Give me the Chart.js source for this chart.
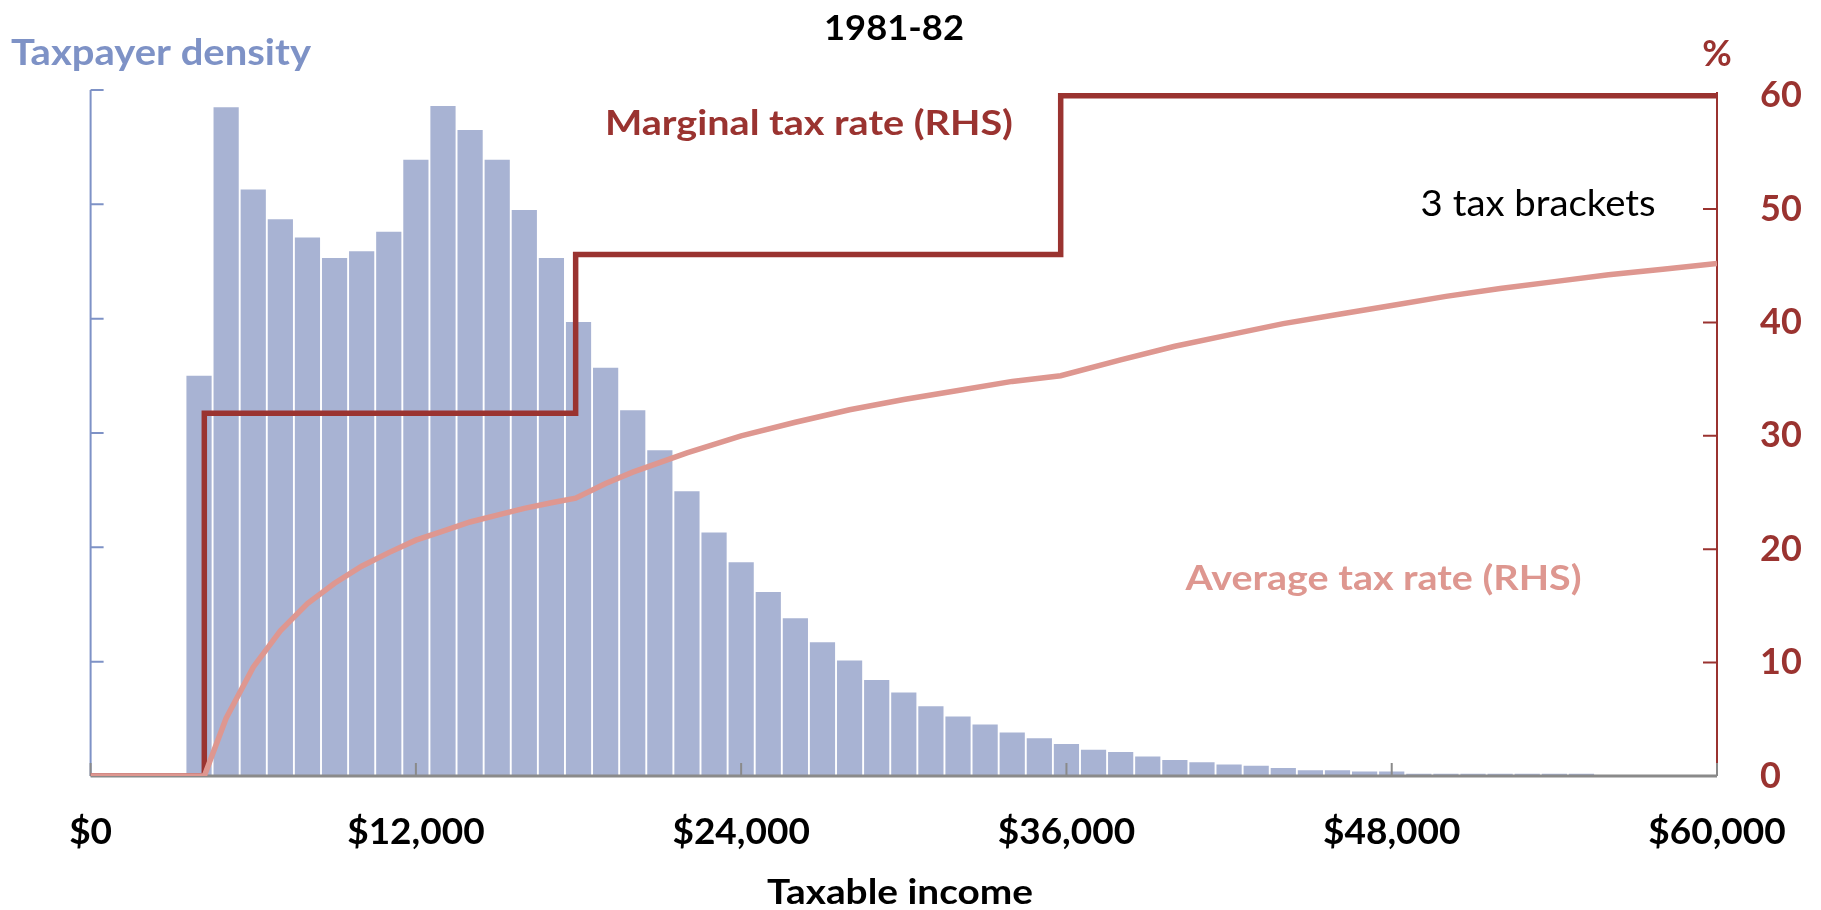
<!DOCTYPE html>
<html>
<head>
<meta charset="utf-8">
<script src="https://cdn.jsdelivr.net/npm/chart.js@4.4.0/dist/chart.umd.min.js"></script>
<style>
  html, body { margin: 0; padding: 0; background: #fff; }
  #wrap { width: 1821px; height: 910px; position: relative; }
</style>
</head>
<body>
<div id="wrap"><canvas id="c"></canvas></div>
<script>
// taxpayer density, $1,000 income bins (bin centres)
const binCentres = [
    4000, 5000, 6000, 7000, 8000, 9000, 10000, 11000, 12000, 13000,
    14000, 15000, 16000, 17000, 18000, 19000, 20000, 21000, 22000, 23000,
    24000, 25000, 26000, 27000, 28000, 29000, 30000, 31000, 32000, 33000,
    34000, 35000, 36000, 37000, 38000, 39000, 40000, 41000, 42000, 43000,
    44000, 45000, 46000, 47000, 48000, 49000, 50000, 51000, 52000, 53000,
    54000, 55000
];
const density = [
    3.50, 5.85, 5.13, 4.87, 4.71, 4.53, 4.59, 4.76, 5.39, 5.86,
    5.65, 5.39, 4.95, 4.53, 3.97, 3.57, 3.20, 2.85, 2.49, 2.13,
    1.87, 1.61, 1.38, 1.17, 1.01, 0.84, 0.73, 0.61, 0.52, 0.45,
    0.38, 0.33, 0.28, 0.23, 0.21, 0.17, 0.14, 0.12, 0.10, 0.09,
    0.07, 0.05, 0.05, 0.04, 0.04, 0.02, 0.02, 0.02, 0.02, 0.02,
    0.02, 0.02
];

// marginal tax rate schedule (%), stepped
const mtrIncome = [0, 4195, 17894, 35788, 60000];
const mtrRate = [0, 32, 46, 60, 60];

// average tax rate (%)
const atrIncome = [
    0, 4195, 5000, 6000, 7000, 8000, 9000, 10000, 11000, 12000,
    13000, 14000, 15000, 16000, 17000, 17894, 19000, 20000, 22000, 24000,
    26000, 28000, 30000, 32000, 34000, 35788, 38000, 40000, 42000, 44000,
    46000, 48000, 50000, 52000, 54000, 56000, 58000, 60000
];
const atrRate = [
    0, 0, 5.1, 9.6, 12.8, 15.2, 17.0, 18.5, 19.7, 20.8,
    21.6, 22.4, 23.0, 23.6, 24.1, 24.5, 25.8, 26.8, 28.5, 30.0,
    31.2, 32.3, 33.2, 34.0, 34.8, 35.3, 36.7, 37.9, 38.9, 39.9,
    40.7, 41.5, 42.3, 43.0, 43.6, 44.2, 44.7, 45.2
];

const incomeTicks = [0, 12000, 24000, 36000, 48000, 60000];
const densityTicks = [0, 1, 2, 3, 4, 5, 6];
const rateTicks = [0, 10, 20, 30, 40, 50, 60];

const BAR = '#A8B3D3';
const BLUE = '#7E92C6';
const RED = '#9A3330';
const PINK = '#DE9790';
const GREY = '#8A8A8A';
const FONT = 'Lato';

const pts = (xs, ys) => xs.map((x, i) => ({ x: x, y: ys[i] }));

// axis lines with inward ticks, drawn over the bars but under the lines
const axesPlugin = {
    id: 'axes',
    afterDatasetDraw(chart, args) {
        if (args.index !== 0) return;
        const { ctx, chartArea: a, scales } = chart;
        ctx.save();
        ctx.lineCap = 'butt';

        ctx.strokeStyle = BLUE;
        ctx.lineWidth = 2;
        ctx.beginPath();
        ctx.moveTo(a.left, a.top);
        ctx.lineTo(a.left, a.bottom);
        densityTicks.forEach(v => {
            const y = scales.yL.getPixelForValue(v);
            ctx.moveTo(a.left, y);
            ctx.lineTo(a.left + 13, y);
        });
        ctx.stroke();

        ctx.strokeStyle = RED;
        ctx.beginPath();
        ctx.moveTo(a.right, a.top + 2);
        ctx.lineTo(a.right, a.bottom);
        rateTicks.forEach(v => {
            const y = scales.yR.getPixelForValue(v);
            ctx.moveTo(a.right, y);
            ctx.lineTo(a.right - 14, y);
        });
        ctx.stroke();

        ctx.strokeStyle = GREY;
        ctx.lineWidth = 3;
        ctx.beginPath();
        ctx.moveTo(a.left, a.bottom);
        ctx.lineTo(a.right, a.bottom);
        ctx.stroke();
        ctx.lineWidth = 2;
        ctx.beginPath();
        incomeTicks.forEach(v => {
            const x = scales.x.getPixelForValue(v);
            ctx.moveTo(x, a.bottom);
            ctx.lineTo(x, a.bottom - 13);
        });
        ctx.stroke();
        ctx.restore();
    }
};

// titles and labels; width = target text width (stretched to match the original face)
const textPlugin = {
    id: 'texts',
    afterDraw(chart) {
        const { ctx, chartArea: a, scales } = chart;
        const put = (txt, cx, y, color, size, weight, width) => {
            ctx.save();
            ctx.font = `${weight} ${size}px ${FONT}`;
            ctx.fillStyle = color;
            ctx.textAlign = 'center';
            ctx.textBaseline = 'alphabetic';
            const k = width ? width / ctx.measureText(txt).width : 1;
            ctx.translate(cx, y);
            ctx.scale(k, 1);
            ctx.fillText(txt, 0, 0);
            ctx.restore();
        };
        put('1981-82', 894, 40, '#000', 35, 'bold', 140);
        put('Taxpayer density', 161, 65, BLUE, 36, 'bold', 300);
        put('%', a.right, 66, RED, 36, 'bold');
        put('Marginal tax rate (RHS)', scales.x.getPixelForValue(26500), 135, RED, 35, 'bold', 408);
        put('3 tax brackets', scales.x.getPixelForValue(53400), 216, '#000', 37, 'normal', 235);
        put('Average tax rate (RHS)', scales.x.getPixelForValue(47700), 590, PINK, 35, 'bold', 396);
        put('Taxable income', 900, 904, '#000', 35, 'bold', 266);
    }
};

new Chart(document.getElementById('c'), {
    type: 'bar',
    data: {
        datasets: [
            {
                type: 'bar',
                label: 'Taxpayer density',
                data: pts(binCentres, density),
                yAxisID: 'yL',
                backgroundColor: BAR,
                borderWidth: 0,
                barPercentage: 0.93,
                categoryPercentage: 1,
                order: 3
            },
            {
                type: 'line',
                label: 'Marginal tax rate (RHS)',
                data: pts(mtrIncome, mtrRate),
                yAxisID: 'yR',
                borderColor: RED,
                borderWidth: 5.5,
                borderJoinStyle: 'miter',
                stepped: true,
                pointRadius: 0,
                fill: false,
                order: 2
            },
            {
                type: 'line',
                label: 'Average tax rate (RHS)',
                data: pts(atrIncome, atrRate),
                yAxisID: 'yR',
                borderColor: PINK,
                borderWidth: 5.5,
                tension: 0,
                pointRadius: 0,
                fill: false,
                order: 1
            }
        ]
    },
    options: {
        responsive: true,
        maintainAspectRatio: false,
        animation: false,
        layout: { padding: { top: 90, left: 0, right: 0, bottom: 0 } },
        plugins: {
            legend: { display: false },
            tooltip: { enabled: false },
            title: { display: false }
        },
        scales: {
            x: {
                type: 'linear',
                min: 0,
                max: 60000,
                offset: false,
                grid: { display: false, drawTicks: false, tickLength: 0 },
                border: { display: false },
                ticks: {
                    stepSize: 12000,
                    padding: 34,
                    color: '#000',
                    autoSkip: false,
                    maxRotation: 0,
                    font: { family: FONT, size: 37, weight: 'bold' },
                    callback: v => '$' + Number(v).toLocaleString('en-US')
                },
                afterBuildTicks: s => { s.ticks = incomeTicks.map(v => ({ value: v })); },
                afterFit: s => { s.height = 134; }
            },
            yL: {
                position: 'left',
                min: 0,
                max: 6,
                grid: { display: false, drawTicks: false, tickLength: 0 },
                border: { display: false },
                ticks: { display: false },
                afterBuildTicks: s => { s.ticks = densityTicks.map(v => ({ value: v })); },
                afterFit: s => { s.width = 90.6; }
            },
            yR: {
                position: 'right',
                min: 0,
                max: 60.5,
                grid: { display: false, drawTicks: false, tickLength: 0 },
                border: { display: false },
                ticks: {
                    padding: 43,
                    color: RED,
                    font: { family: FONT, size: 36, weight: 'bold' }
                },
                afterBuildTicks: s => { s.ticks = rateTicks.map(v => ({ value: v })); },
                afterFit: s => { s.width = 104; }
            }
        }
    },
    plugins: [axesPlugin, textPlugin]
});
</script>
</body>
</html>
